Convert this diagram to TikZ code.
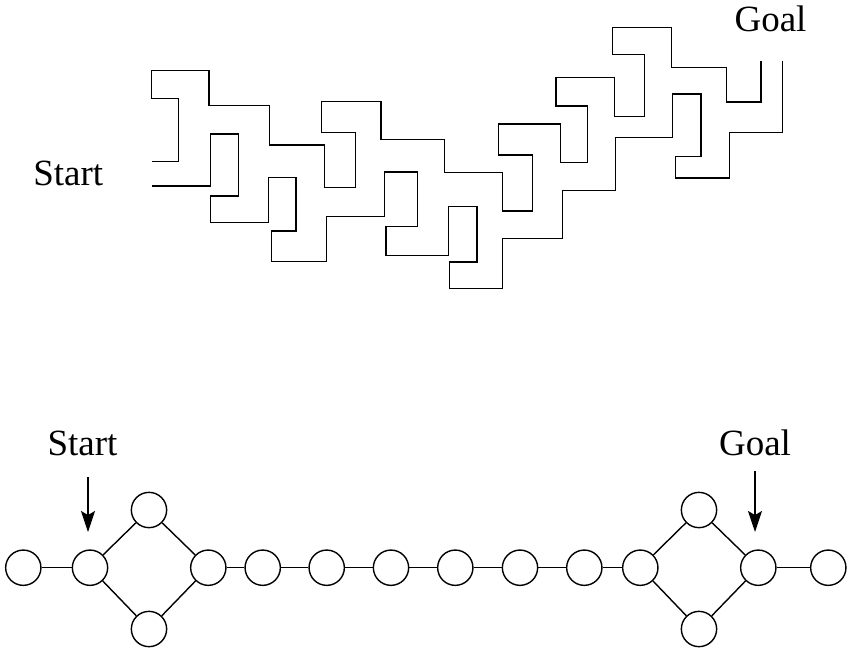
\documentclass[tikz,border=0pt]{standalone}
\usepackage{fontspec}
\setmainfont{Liberation Serif}
\usetikzlibrary{arrows.meta}
\begin{document}
\begin{tikzpicture}[x=1pt,y=-1pt,
  wall/.style={line width=1.5pt, line join=miter},
  st/.style={circle, draw, line width=1.4pt, minimum size=35.3pt, inner sep=0pt},
  link/.style={line width=1.4pt},
  lbl/.style={anchor=base, inner sep=0pt, font=\fontsize{37}{40}\selectfont},
  ptr/.style={line width=1.4pt, -{Stealth[length=21pt,width=14pt,inset=4pt]}}]
\useasboundingbox (0,0) rectangle (848,649);
% maze walls
\draw[wall] (151.7,161.7) -- (178.3,161.7) -- (178.3,98.3) -- (151.7,98.3) -- (151.7,70.7)
  -- (209,70.7) -- (209,105.7) -- (269.3,105.7) -- (269.3,145) -- (324.3,145)
  -- (324.3,187.7) -- (355.7,187.7) -- (355.7,132.3) -- (321.7,132.3) -- (321.7,101.5)
  -- (381,101.5) -- (381,139.7) -- (444.5,139.7) -- (444.5,172.5) -- (502.7,172.5)
  -- (502.7,211) -- (532.7,211) -- (532.7,155) -- (498.3,155) -- (498.3,124)
  -- (560.7,124) -- (560.7,162.7) -- (587.3,162.7) -- (587.3,106) -- (556,106)
  -- (556,77.3) -- (614.7,77.3) -- (614.7,116.3) -- (644.3,116.3) -- (644.3,54.7)
  -- (612.3,54.7) -- (612.3,27.3) -- (671.7,27.3) -- (671.7,67.3) -- (726.7,67.3)
  -- (726.7,102) -- (761,102) -- (761,61);
\draw[wall] (151.7,186) -- (210.7,186) -- (210.7,134) -- (238.7,134) -- (238.7,196)
  -- (210.7,196) -- (210.7,222.7) -- (268.3,222.7) -- (268.3,177.3) -- (296,177.3)
  -- (296,231) -- (271.7,231) -- (271.7,261.3) -- (326.3,261.3) -- (326.3,216.7)
  -- (384.3,216.7) -- (384.3,172) -- (417.3,172) -- (417.3,226.3) -- (386,226.3)
  -- (386,255.3) -- (448.5,255.3) -- (448.5,206.3) -- (477,206.3) -- (477,262)
  -- (449.3,262) -- (449.3,288.7) -- (502.7,288.7) -- (502.7,238.3) -- (562.3,238.3)
  -- (562.3,190.3) -- (615.3,190.3) -- (615.3,137.3) -- (672.3,137.3) -- (672.3,94)
  -- (701,94) -- (701,156.3) -- (675.7,156.3) -- (675.7,178) -- (729.3,178)
  -- (729.3,132.7) -- (782.3,132.7) -- (782.3,61);
\node[lbl] (mstart) at (68.3,185) {Start};
\node[lbl] (mgoal) at (770.5,31.7) {Goal};
% state graph
\node[st] (a1) at (23.3,567.7) {};
\node[st] (a2) at (90,567.7) {};
\node[st] (at) at (149,510) {};
\node[st] (ab) at (149,629) {};
\node[st] (a3) at (208.3,567.7) {};
\node[st] (c1) at (262.7,567.7) {};
\node[st] (c2) at (326.7,567.7) {};
\node[st] (c3) at (391,567.7) {};
\node[st] (c4) at (455.3,567.7) {};
\node[st] (c5) at (520,567.7) {};
\node[st] (c6) at (584.3,567.7) {};
\node[st] (b1) at (640.3,567.7) {};
\node[st] (bt) at (699,510) {};
\node[st] (bb) at (699,629) {};
\node[st] (b2) at (758.3,567.7) {};
\node[st] (b3) at (828.3,567.7) {};
\draw[link] (a1) -- (a2);
\draw[link] (a2) -- (at);
\draw[link] (a2) -- (ab);
\draw[link] (at) -- (a3);
\draw[link] (ab) -- (a3);
\draw[link] (a3) -- (c1);
\draw[link] (c1) -- (c2);
\draw[link] (c2) -- (c3);
\draw[link] (c3) -- (c4);
\draw[link] (c4) -- (c5);
\draw[link] (c5) -- (c6);
\draw[link] (c6) -- (b1);
\draw[link] (b1) -- (bt);
\draw[link] (b1) -- (bb);
\draw[link] (bt) -- (b2);
\draw[link] (bb) -- (b2);
\draw[link] (b2) -- (b3);
\node[lbl] (gstart) at (82.5,455) {Start};
\node[lbl] (ggoal) at (755,455.7) {Goal};
\coordinate (sa) at (88,477);
\coordinate (sb) at (88,532);
\coordinate (ga) at (755,471);
\coordinate (gb) at (755,532);
\draw[ptr] (sa) -- (sb);
\draw[ptr] (ga) -- (gb);
\end{tikzpicture}
\end{document}
